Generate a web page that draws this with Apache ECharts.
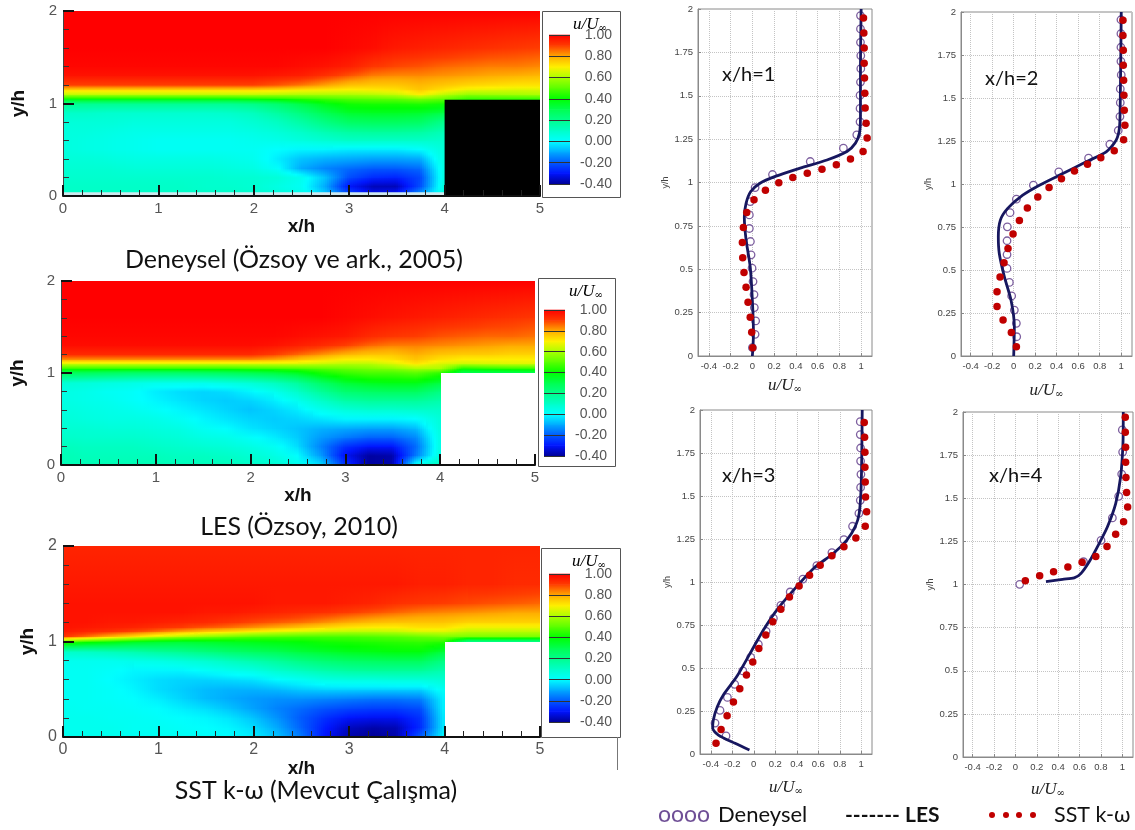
<!DOCTYPE html>
<html><head><meta charset="utf-8">
<style>html,body{margin:0;padding:0;background:#fff}#c{width:1135px;height:830px}</style>
<script src="https://cdn.jsdelivr.net/npm/echarts@6/dist/echarts.min.js"></script>
</head><body><div id="c"></div>
<script>
const _ = null;
const xLevels = [0,.25,.5,.75,1,1.25,1.5,1.75,2,2.25,2.5,2.75,3,3.25,3.5,3.75,4,4.25,4.5,4.75,5];
const yLevels = [0,.1,.2,.3,.4,.5,.6,.7,.8,.9,1,1.05,1.1,1.15,1.2,1.3,1.4,1.6,2];
const colorbarLevels = [-.4,-.3,-.2,-.1,0,.1,.2,.3,.4,.5,.6,.7,.8,.9,1];
const colorbarColors = ['#000096','#0014ff','#005aff','#00aaff','#00ffff','#00ffc8','#00ff8c','#00ff50','#00ff00','#5aff00','#aaff00','#fff000','#ffaa00','#ff3c00','#ff0000'];
const solidBlock = [4,0,5,1.04];
const wallStrip = [0,0,4,.04];
const fieldDeneysel = [
[.1,.1,.1,.1,.1,.1,.1,.1,.09,.07,.04,-.05,-.2,-.3,-.28,-.1,.06,_,_,_,_],
[.1,.1,.1,.1,.1,.1,.09,.09,.08,.05,.02,-.1,-.3,-.37,-.37,-.22,.06,_,_,_,_],
[.09,.09,.09,.09,.09,.09,.09,.08,.08,.07,.03,-.07,-.22,-.27,-.28,-.23,.05,_,_,_,_],
[.08,.08,.08,.07,.07,.07,.07,.06,.05,.01,-.1,-.15,-.18,-.2,-.2,-.18,.05,_,_,_,_],
[.07,.07,.06,.05,.05,.05,.05,.04,.03,-.02,-.07,-.09,-.1,-.11,-.11,-.1,.06,_,_,_,_],
[.06,.05,.04,.03,.02,.02,.02,.02,.02,0,-.01,-.01,-.02,-.02,-.02,0,.07,_,_,_,_],
[.06,.05,.04,.03,.02,.02,.02,.02,.03,.04,.06,.08,.1,.1,.1,.1,.09,_,_,_,_],
[.06,.06,.05,.04,.04,.04,.04,.04,.05,.07,.1,.14,.17,.18,.18,.17,.13,_,_,_,_],
[.07,.07,.07,.06,.06,.06,.06,.06,.08,.11,.16,.22,.27,.28,.28,.27,.2,_,_,_,_],
[.1,.1,.09,.09,.09,.09,.09,.1,.12,.17,.23,.3,.35,.36,.36,.35,.32,_,_,_,_],
[.2,.2,.2,.2,.2,.2,.2,.2,.22,.26,.32,.38,.42,.43,.43,.44,.42,.42,.42,.42,.42],
[.42,.42,.42,.42,.42,.42,.42,.42,.43,.44,.46,.48,.5,.51,.52,.55,.52,.46,.46,.46,.46],
[.62,.62,.62,.62,.62,.62,.62,.62,.62,.61,.6,.6,.6,.61,.63,.7,.62,.57,.58,.59,.6],
[.75,.75,.75,.75,.75,.75,.75,.75,.75,.74,.72,.71,.7,.71,.72,.76,.72,.68,.67,.66,.66],
[.9,.9,.9,.9,.9,.9,.9,.9,.9,.88,.85,.81,.77,.76,.76,.78,.76,.74,.73,.72,.72],
[.97,.97,.97,.97,.97,.97,.97,.97,.97,.96,.95,.92,.88,.84,.83,.83,.82,.81,.8,.79,.78],
[.99,.99,.99,.99,.99,.99,.99,.99,.99,.99,.98,.97,.95,.91,.89,.88,.86,.85,.84,.84,.83],
[1,1,1,1,1,1,1,1,1,1,1,1,.99,.98,.96,.95,.94,.93,.92,.91,.9],
[1,1,1,1,1,1,1,1,1,1,1,1,1,1,1,1,1,1,1,1,1]];
const fieldLES = [
[.13,.13,.13,.13,.13,.12,.12,.12,.1,.08,.03,-.04,-.25,-.39,-.38,.02,.12,_,_,_,_],
[.13,.12,.12,.12,.12,.11,.11,.1,.08,.05,0,-.12,-.31,-.39,-.38,-.16,.06,_,_,_,_],
[.12,.11,.11,.11,.1,.09,.08,.07,.05,.02,-.04,-.15,-.26,-.3,-.3,-.18,.05,_,_,_,_],
[.1,.09,.09,.09,.08,.07,.05,.04,.01,-.02,-.06,-.12,-.16,-.19,-.19,-.14,.05,_,_,_,_],
[.08,.08,.07,.07,.06,.05,.02,0,-.03,-.05,-.07,-.09,-.1,-.11,-.11,-.08,.06,_,_,_,_],
[.07,.06,.05,.05,.04,.02,-.01,-.03,-.05,-.06,-.05,-.03,-.01,-.01,-.01,0,.07,_,_,_,_],
[.06,.05,.04,.03,.01,-.01,-.03,-.05,-.07,-.05,-.02,.03,.07,.09,.09,.1,.1,_,_,_,_],
[.05,.04,.03,.01,-.01,-.03,-.05,-.06,-.05,-.02,.03,.1,.16,.18,.18,.18,.15,_,_,_,_],
[.05,.04,.02,.01,-.02,-.04,-.05,-.04,-.01,.03,.1,.18,.25,.27,.28,.28,.22,_,_,_,_],
[.08,.07,.06,.05,.04,.04,.04,.06,.08,.12,.18,.27,.34,.37,.38,.38,.33,_,_,_,_],
[.28,.28,.27,.26,.26,.26,.27,.28,.3,.32,.36,.42,.46,.48,.48,.5,.45,.3,.3,.3,.3],
[.45,.45,.45,.45,.45,.45,.45,.45,.46,.47,.48,.5,.52,.54,.56,.6,.6,.42,.44,.45,.45],
[.66,.66,.66,.66,.66,.66,.66,.66,.66,.66,.66,.64,.62,.62,.66,.72,.66,.64,.65,.66,.66],
[.82,.82,.82,.82,.82,.82,.82,.82,.82,.8,.76,.73,.7,.7,.72,.76,.72,.7,.7,.7,.7],
[.93,.93,.93,.93,.93,.93,.93,.93,.93,.9,.86,.82,.78,.76,.76,.79,.76,.75,.75,.74,.74],
[.98,.98,.98,.98,.98,.98,.98,.98,.98,.97,.95,.93,.9,.86,.84,.84,.83,.82,.81,.8,.8],
[.99,.99,.99,.99,.99,.99,.99,.99,.99,.99,.98,.97,.96,.93,.91,.9,.88,.87,.86,.86,.85],
[1,1,1,1,1,1,1,1,1,1,1,1,.99,.98,.97,.96,.95,.94,.93,.92,.91],
[1,1,1,1,1,1,1,1,1,1,1,1,1,1,1,1,1,1,1,1,1]];
const fieldSST = [
[.03,.03,.03,.02,.02,.02,.01,0,-.02,-.07,-.16,-.3,-.38,-.4,-.38,-.2,0,_,_,_,_],
[.03,.03,.03,.02,.02,.01,0,-.01,-.04,-.1,-.19,-.29,-.36,-.38,-.37,-.27,-.02,_,_,_,_],
[.03,.03,.02,.02,.01,0,-.01,-.03,-.07,-.13,-.2,-.26,-.3,-.31,-.31,-.26,-.02,_,_,_,_],
[.03,.02,.02,.01,0,-.02,-.04,-.07,-.11,-.15,-.18,-.21,-.23,-.24,-.24,-.22,-.01,_,_,_,_],
[.02,.02,.01,0,-.02,-.05,-.08,-.1,-.12,-.13,-.13,-.14,-.15,-.16,-.16,-.15,-.01,_,_,_,_],
[.02,.02,.01,-.01,-.04,-.06,-.08,-.09,-.09,-.08,-.06,-.05,-.05,-.05,-.05,-.05,.02,_,_,_,_],
[.02,.02,0,-.02,-.04,-.05,-.05,-.04,-.03,0,.02,.05,.06,.06,.07,.07,.08,_,_,_,_],
[.02,.02,.01,-.01,-.01,-.01,.01,.03,.05,.09,.12,.15,.17,.18,.18,.18,.14,_,_,_,_],
[.03,.03,.03,.04,.05,.07,.09,.12,.15,.18,.22,.25,.27,.28,.29,.29,.22,_,_,_,_],
[.1,.11,.13,.15,.18,.2,.23,.26,.28,.3,.33,.35,.37,.38,.39,.39,.33,_,_,_,_],
[.5,.45,.42,.38,.36,.35,.36,.37,.38,.39,.4,.42,.43,.44,.45,.46,.45,.2,.2,.2,.2],
[.92,.85,.78,.72,.65,.6,.56,.53,.5,.49,.48,.48,.48,.49,.5,.52,.54,.54,.54,.54,.54],
[.96,.94,.92,.89,.85,.8,.76,.73,.7,.67,.65,.63,.62,.62,.63,.66,.66,.62,.62,.62,.62],
[.97,.96,.95,.94,.92,.9,.87,.85,.82,.79,.76,.73,.71,.7,.7,.72,.72,.68,.68,.68,.68],
[.97,.97,.96,.96,.95,.94,.93,.91,.89,.87,.85,.82,.79,.77,.76,.76,.76,.74,.74,.74,.74],
[.97,.97,.97,.97,.97,.97,.96,.96,.95,.94,.93,.92,.9,.88,.86,.84,.83,.82,.81,.8,.8],
[.97,.97,.97,.97,.97,.97,.97,.97,.97,.96,.96,.96,.95,.94,.92,.91,.9,.89,.88,.87,.86],
[.96,.96,.96,.96,.96,.96,.96,.96,.96,.96,.96,.96,.96,.96,.96,.95,.95,.94,.94,.93,.93],
[.94,.94,.94,.94,.94,.94,.94,.94,.94,.94,.94,.94,.94,.94,.94,.94,.94,.94,.94,.94,.94]];

const xTicks = [-.4,-.2,0,.2,.4,.6,.8,1];
const sst1 = [[.003,.048],[-.006,.137],[-.02,.223],[-.04,.31],[-.058,.396],[-.077,.481],[-.089,.567],[-.092,.654],[-.083,.74],[-.052,.827],[.015,.9],[.12,.956],[.243,.998],[.372,1.029],[.505,1.054],[.64,1.077],[.772,1.102],[.902,1.135],[1.018,1.179],[1.055,1.256],[1.046,1.342],[1.037,1.429],[1.034,1.515],[1.031,1.602],[1.028,1.688],[1.028,1.775],[1.025,1.862],[1.022,1.948]];
const exp1 = [[0,.048],[.025,.125],[.03,.202],[.018,.279],[.015,.354],[.006,.429],[-.003,.506],[-.012,.583],[-.018,.66],[-.028,.735],[-.028,.813],[-.02,.89],[.025,.971],[.185,1.046],[.532,1.121],[.837,1.198],[.96,1.275],[.99,1.35],[.99,1.427],[.99,1.502],[.994,1.579],[.997,1.656],[.997,1.731],[.994,1.808],[.994,1.885],[.994,1.962]];
const les1 = [[0,0],[.01,.13],[0,.32],[-.02,.515],[-.058,.67],[-.074,.8],[-.058,.88],[-.015,.948],[.07,.996],[.21,1.035],[.44,1.083],[.686,1.13],[.87,1.179],[.948,1.227],[.985,1.285],[.994,1.38],[.994,1.67],[1,2]];
const sst2 = [[.025,.054],[-.022,.136],[-.099,.209],[-.155,.288],[-.155,.374],[-.127,.459],[-.09,.542],[-.053,.625],[-.006,.709],[.053,.788],[.127,.86],[.224,.924],[.329,.98],[.444,1.03],[.565,1.075],[.686,1.115],[.81,1.152],[.935,1.193],[1.022,1.257],[1.034,1.342],[1.028,1.429],[1.025,1.516],[1.022,1.603],[1.019,1.69],[1.019,1.777],[1.016,1.864],[1.016,1.952]];
const exp2 = [[.028,.112],[.025,.19],[.006,.267],[-.019,.349],[-.04,.428],[-.062,.509],[-.062,.59],[-.062,.67],[-.059,.751],[-.034,.833],[.025,.912],[.183,.993],[.419,1.071],[.696,1.15],[.894,1.231],[.972,1.311],[.988,1.392],[.991,1.473],[.991,1.553],[1,1.634],[.997,1.713],[.997,1.795],[.997,1.874],[.997,1.955]];
const les2 = [[0,0],[.006,.17],[-.025,.325],[-.087,.461],[-.134,.596],[-.143,.693],[-.124,.79],[-.056,.858],[.084,.935],[.239,.993],[.457,1.061],[.674,1.129],[.86,1.187],[.953,1.255],[.984,1.332],[.991,1.487],[1,2]];
const sst3 = [[-.351,.062],[-.304,.143],[-.248,.223],[-.189,.302],[-.13,.38],[-.068,.459],[-.009,.535],[.047,.614],[.112,.692],[.177,.769],[.252,.841],[.332,.913],[.422,.977],[.519,1.039],[.618,1.097],[.727,1.153],[.839,1.205],[.95,1.256],[1.037,1.324],[1.05,1.409],[1.04,1.494],[1.037,1.581],[1.034,1.667],[1.034,1.754],[1.031,1.841],[1.028,1.928]];
const exp3 = [[-.258,.105],[-.36,.18],[-.314,.254],[-.245,.329],[-.177,.405],[-.102,.483],[-.028,.562],[.043,.638],[.115,.713],[.183,.789],[.252,.864],[.339,.942],[.457,1.017],[.587,1.095],[.727,1.171],[.839,1.246],[.919,1.324],[.978,1.399],[.991,1.475],[.994,1.55],[.997,1.626],[.994,1.703],[.994,1.779],[.991,1.857],[.991,1.932]];
const les3 = [[-.04,.023],[-.174,.062],[-.329,.11],[-.382,.149],[-.376,.198],[-.339,.275],[-.283,.343],[-.158,.45],[-.034,.585],[.09,.721],[.214,.837],[.37,.953],[.556,1.079],[.742,1.167],[.866,1.244],[.944,1.322],[.981,1.399],[1,1.574],[1.009,2]];
const sst4 = [[.093,1.022],[.227,1.051],[.357,1.074],[.491,1.101],[.624,1.129],[.752,1.163],[.857,1.221],[.938,1.291],[1.012,1.364],[1.05,1.449],[1.04,1.534],[1.034,1.621],[1.031,1.708],[1.031,1.795],[1.028,1.882],[1.028,1.969]];
const exp4 = [[.04,1.001],[.637,1.132],[.801,1.256],[.907,1.386],[.966,1.511],[.994,1.64],[1.003,1.768],[1,1.896]];
const les4 = [[.286,1.016],[.441,1.03],[.55,1.038],[.612,1.063],[.689,1.13],[.783,1.237],[.86,1.333],[.938,1.469],[.984,1.623],[1.006,1.816],[1.009,2]];

const sans = '"Liberation Sans",Arial,sans-serif';
const capFont = 'Lato,sans-serif';
const rgb = colorbarColors.map(h => [1,3,5].map(i => parseInt(h.substr(i,2),16)));
function colorOf(v){
  const L = colorbarLevels, n = L.length;
  if (v <= L[0]) return `rgb(${rgb[0]})`;
  if (v >= L[n-1]) return `rgb(${rgb[n-1]})`;
  let k = Math.min(n-2, Math.floor((v-L[0])/.1+1e-9));
  const t = (v-L[k])/(L[k+1]-L[k]);
  const c = rgb[k].map((a,i)=>Math.round(a+(rgb[k+1][i]-a)*t));
  return `rgb(${c})`;
}
function gradient(v0,v1){ // v0 at the bottom, v1 at the top
  const stops=[]; const N=Math.max(1,Math.ceil(Math.abs(v1-v0)/.05));
  for(let s=0;s<=N;s++) stops.push({offset:s/N,color:colorOf(v0+(v1-v0)*s/N)});
  return {type:'linear',x:0,y:1,x2:0,y2:0,colorStops:stops};
}
function fieldRender(field){
  return function(params,api){
    const i=api.value(3), j=api.value(4);
    if(i>=xLevels.length-1||j>=yLevels.length-1) return;
    const a=field[j][i],b=field[j][i+1],c=field[j+1][i],d=field[j+1][i+1];
    if(a==null||b==null||c==null||d==null) return;
    const p0=api.coord([xLevels[i],yLevels[j]]), p1=api.coord([xLevels[i+1],yLevels[j+1]]);
    const N=12, W=(p1[0]-p0[0])/N, kids=[];
    for(let s=0;s<N;s++){
      const t=(s+.5)/N, xa=Math.floor(p0[0]+s*W), xb=Math.ceil(p0[0]+(s+1)*W);
      const yt=Math.floor(p1[1]), yb=Math.ceil(p0[1]);
      kids.push({type:'rect',shape:{x:xa,y:yt,width:xb-xa,height:yb-yt},style:{fill:gradient(a+(b-a)*t,c+(d-c)*t)}});
    }
    return {type:'group',children:kids};
  };
}
function nodes(field){
  const out=[];
  field.forEach((row,j)=>row.forEach((v,i)=>{ if(v!=null) out.push([xLevels[i],yLevels[j],v,i,j]); }));
  return out;
}
function overlay(g,range,color){
  return {type:'custom',xAxisIndex:g,yAxisIndex:g,silent:true,animation:false,z:3,clip:false,encode:{x:0,y:1},data:[range],
    renderItem:(params,api)=>{
      const p0=api.coord([api.value(0),api.value(1)]),p1=api.coord([api.value(2),api.value(3)]);
      return {type:'rect',shape:{x:p0[0],y:p1[1],width:p1[0]-p0[0],height:p0[1]-p1[1]},style:{fill:color}};
    }};
}
const contourPanels=[
 {f:fieldDeneysel,l:63,t:11,w:477,h:185,fs:15,yGap:35,xGap:21,bar:{l:549,t:35,w:21,h:149},box:[542,11,78,186],area:true},
 {f:fieldLES,l:61,t:281,w:474,h:184,fs:15,yGap:34,xGap:21,bar:{l:544,t:310,w:21,h:146},box:[538,278,77,188]},
 {f:fieldSST,l:63,t:546,w:477,h:191,fs:16,yGap:26,xGap:20,bar:{l:549,t:574,w:21,h:148},box:[541,548,79,189]}
];
const profilePanels=[
 {l:698,t:9,w:174,h:347,s:sst1,e:exp1,n:les1,lab:'x/h=1',lx:722,ly:75,xm:-.5,ng:21},
 {l:961,t:12,w:171,h:344,s:sst2,e:exp2,n:les2,lab:'x/h=2',lx:985,ly:79,xm:-.49,ng:26},
 {l:700,t:410,w:172,h:344,s:sst3,e:exp3,n:les3,lab:'x/h=3',lx:722,ly:476,xm:-.5,ng:25},
 {l:963,t:412,w:170,h:345,s:sst4,e:exp4,n:les4,lab:'x/h=4',lx:989,ly:476,xm:-.49,ng:24}
];
const grid=[],xAxis=[],yAxis=[],series=[],graphic=[];
const uName='{a|u/U}{b|∞}';
const uRich={a:{fontFamily:'"Liberation Serif",serif',fontStyle:'italic',fontSize:17,color:'#222'},b:{fontFamily:'"DejaVu Serif",serif',fontSize:10,color:'#222',verticalAlign:'bottom',padding:[6,0,0,0]}};
contourPanels.forEach((p,k)=>{
  const g=grid.length;
  grid.push({left:p.l,top:p.t,width:p.w,height:p.h});
  xAxis.push({gridIndex:g,type:'value',min:0,max:5,interval:1,z:10,name:'x/h',nameLocation:'middle',nameGap:p.xGap,
    nameTextStyle:{fontFamily:sans,fontWeight:'bold',fontSize:19,color:'#111'},
    axisLine:{lineStyle:{color:'#111',width:2}},axisTick:{inside:true,length:11,lineStyle:{color:'#111',width:2}},
    minorTick:{show:true,splitNumber:5,length:6,lineStyle:{color:'#222'}},splitLine:{show:false},
    axisLabel:{fontFamily:sans,fontSize:p.fs,color:'#555',margin:5,showMinLabel:true,showMaxLabel:true}});
  yAxis.push({gridIndex:g,type:'value',min:0,max:2,interval:1,z:10,name:'y/h',nameLocation:'middle',nameGap:p.yGap,
    nameTextStyle:{fontFamily:sans,fontWeight:'bold',fontSize:19,color:'#111'},
    axisLine:{lineStyle:{color:'#444',width:1}},axisTick:{inside:true,length:11,lineStyle:{color:'#111',width:2}},
    minorTick:{show:true,splitNumber:5,length:6,lineStyle:{color:'#333'}},splitLine:{show:false},
    axisLabel:{fontFamily:sans,fontSize:p.fs,color:'#555',margin:6}});
  series.push({type:'custom',name:'u/U',xAxisIndex:g,yAxisIndex:g,coordinateSystem:'cartesian2d',silent:true,animation:false,clip:false,
    encode:{x:0,y:1},data:nodes(p.f),renderItem:fieldRender(p.f)});
  if(p.area){
    series.push(overlay(g,solidBlock,'#000'));
    series.push(overlay(g,wallStrip,'#cfe8ee'));
  }
  const b=grid.length, B=p.bar;
  grid.push({left:B.l,top:B.t,width:B.w,height:B.h,show:true,borderColor:'#222',borderWidth:1});
  xAxis.push({gridIndex:b,type:'value',min:0,max:1,show:false});
  yAxis.push({gridIndex:b,type:'value',min:-.4,max:1,interval:.2,position:'right',z:10,
    axisLine:{show:false},axisTick:{show:false},splitLine:{show:true,lineStyle:{color:'#333',width:1}},
    axisLabel:{fontFamily:sans,fontSize:14,color:'#555',align:'right',margin:42,showMinLabel:true,showMaxLabel:true,
      formatter:v=>(+v).toFixed(2)}});
  series.push({type:'custom',xAxisIndex:b,yAxisIndex:b,silent:true,animation:false,encode:{x:0,y:1},
    data:colorbarLevels.slice(0,-1).map((v,i)=>[0,v,colorbarLevels[i+1]]),
    renderItem:(params,api)=>{
      const p0=api.coord([0,api.value(1)]),p1=api.coord([1,api.value(2)]);
      return {type:'rect',shape:{x:p0[0],y:p1[1]-.3,width:p1[0]-p0[0],height:p0[1]-p1[1]+.6},style:{fill:gradient(api.value(1),api.value(2))}};
    }});
  graphic.push({type:'rect',z:0,silent:true,shape:{x:p.box[0]+.5,y:p.box[1]+.5,width:p.box[2],height:p.box[3]},style:{fill:'#fff',stroke:'#555',lineWidth:1}});
  graphic.push({type:'text',z:20,silent:true,x:p.box[0]+31,y:p.box[1]+5,style:{text:uName,rich:uRich}});
});
profilePanels.forEach(p=>{
  const g=grid.length;
  grid.push({left:p.l,top:p.t,width:p.w,height:p.h,show:true,borderColor:'#8a8a8a',borderWidth:1});
  xAxis.push({gridIndex:g,type:'value',min:p.xm,max:1.1,z:1,name:uName,nameLocation:'middle',nameGap:p.ng,nameTextStyle:{rich:uRich},
    axisLine:{onZero:false,lineStyle:{color:'#8a8a8a'}},
    axisTick:{inside:true,length:3,customValues:xTicks,lineStyle:{color:'#888'}},
    splitLine:{show:true,lineStyle:{color:'#c4c4c4',type:'dotted'}},
    axisLabel:{fontFamily:sans,fontSize:9.5,color:'#444',margin:5,customValues:xTicks}});
  yAxis.push({gridIndex:g,type:'value',min:0,max:2,interval:.25,z:1,name:'y/h',nameLocation:'middle',nameGap:28,
    nameTextStyle:{fontFamily:sans,fontSize:9,color:'#444'},
    axisLine:{onZero:false,lineStyle:{color:'#8a8a8a'}},axisTick:{inside:true,length:3,lineStyle:{color:'#888'}},
    splitLine:{show:true,lineStyle:{color:'#c4c4c4',type:'dotted'}},
    axisLabel:{fontFamily:sans,fontSize:9.5,color:'#444',margin:5}});
  series.push({type:'scatter',name:'Deneysel',xAxisIndex:g,yAxisIndex:g,data:p.e,symbol:'circle',symbolSize:7.5,clip:false,silent:true,animation:false,z:3,
    itemStyle:{color:'#fff',opacity:1,borderColor:'#7d5f9f',borderWidth:1.3}});
  series.push({type:'line',name:'LES',xAxisIndex:g,yAxisIndex:g,data:p.n,smooth:.25,showSymbol:false,clip:false,silent:true,animation:false,z:4,
    lineStyle:{color:'#17175f',width:2.8}});
  series.push({type:'scatter',name:'SST k-ω',xAxisIndex:g,yAxisIndex:g,data:p.s,symbol:'circle',symbolSize:7.5,clip:false,silent:true,animation:false,z:5,
    itemStyle:{color:'#c00000',opacity:1}});
  graphic.push({type:'text',z:20,silent:true,x:p.lx,y:p.ly,style:{text:p.lab,fontFamily:capFont,fontSize:20,fill:'#111',textVerticalAlign:'middle'}});
});
const captions=[['Deneysel (Özsoy ve ark., 2005)',294,260],['LES (Özsoy, 2010)',299,527],['SST k-ω (Mevcut Çalışma)',316,791]];
captions.forEach(c=>graphic.push({type:'text',z:20,silent:true,x:c[1],y:c[2],style:{text:c[0],fontFamily:capFont,fontSize:25,fill:'#111',textAlign:'center',textVerticalAlign:'middle'}}));
const legendY=815;
graphic.push({type:'text',z:20,silent:true,x:658,y:legendY,style:{text:'oooo',fontFamily:capFont,fontSize:23,fill:'#6f4f96',textVerticalAlign:'middle'}});
graphic.push({type:'text',z:20,silent:true,x:718,y:legendY,style:{text:'Deneysel',fontFamily:capFont,fontSize:22,fill:'#111',textVerticalAlign:'middle'}});
graphic.push({type:'text',z:20,silent:true,x:845,y:legendY,style:{text:'-------',fontFamily:capFont,fontWeight:'bold',fontSize:21,fill:'#111',textVerticalAlign:'middle'}});
graphic.push({type:'text',z:20,silent:true,x:905,y:legendY,style:{text:'LES',fontFamily:capFont,fontWeight:'bold',fontSize:21,fill:'#111',textVerticalAlign:'middle'}});
[992,1006,1019,1033].forEach(x=>graphic.push({type:'circle',z:20,silent:true,shape:{cx:x,cy:legendY,r:3},style:{fill:'#c00000'}}));
graphic.push({type:'text',z:20,silent:true,x:1054,y:legendY,style:{text:'SST k-ω',fontFamily:capFont,fontSize:21.5,fill:'#111',textVerticalAlign:'middle'}});
graphic.push({type:'line',z:20,silent:true,shape:{x1:617.5,y1:737,x2:617.5,y2:770},style:{stroke:'#777',lineWidth:1}});

const chart=echarts.init(document.getElementById('c'),null,{renderer:'canvas'});
chart.setOption({animation:false,backgroundColor:'#fff',grid,xAxis,yAxis,series,graphic:{elements:graphic}});
</script></body></html>
